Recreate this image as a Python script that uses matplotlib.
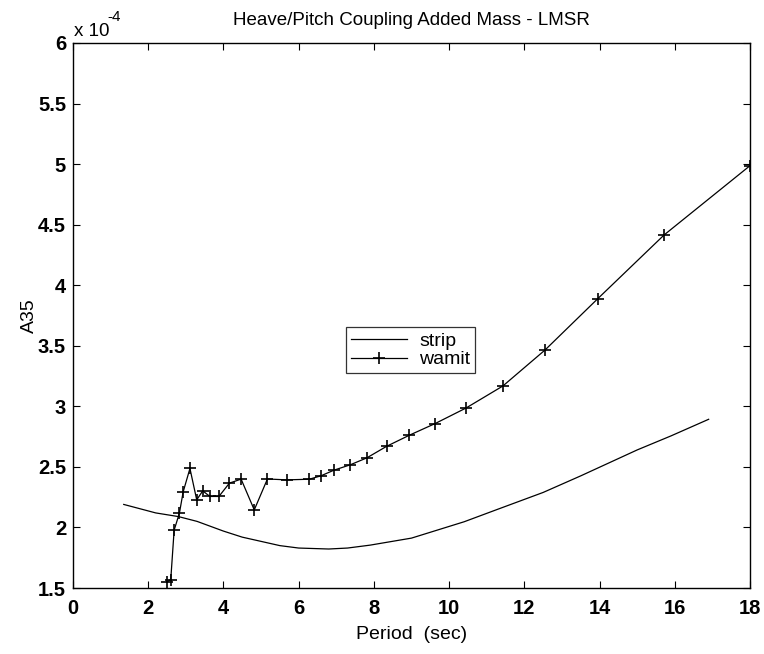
import matplotlib
matplotlib.use("Agg")
import matplotlib.pyplot as plt
from matplotlib.ticker import FuncFormatter, MultipleLocator

plt.rcParams['font.family'] = ['Liberation Sans', 'DejaVu Sans']

# strip theory results (A35 in units of 1e-4)
strip_period = [1.35, 2.2, 2.8, 3.3, 4.0, 4.5, 5.0, 5.5, 6.0, 6.8, 7.3, 7.9,
                9.0, 10.4, 11.3, 12.5, 13.5, 15.0, 15.9, 16.9]
strip_a35 = [2.19, 2.12, 2.09, 2.05, 1.97, 1.92, 1.885, 1.85, 1.83, 1.822, 1.83,
             1.854, 1.912, 2.047, 2.151, 2.289, 2.426, 2.64, 2.756, 2.893]

# WAMIT results (A35 in units of 1e-4)
wamit_period = [2.5, 2.6, 2.69, 2.83, 2.93, 3.11, 3.29, 3.45, 3.64, 3.88, 4.16,
                4.47, 4.82, 5.17, 5.68, 6.28, 6.59, 6.94, 7.37, 7.81, 8.34,
                8.94, 9.63, 10.45, 11.43, 12.55, 13.95, 15.72, 18.0]
wamit_a35 = [1.55, 1.57, 1.978, 2.118, 2.294, 2.487, 2.228, 2.302, 2.256, 2.256,
             2.366, 2.399, 2.145, 2.40, 2.393, 2.398, 2.426, 2.473, 2.517,
             2.574, 2.67, 2.761, 2.858, 2.986, 3.168, 3.465, 3.888, 4.416, 4.987]

scale = 1e-4

fig = plt.figure(figsize=(7.64, 6.54), dpi=100)
ax = fig.add_axes([0.0955, 0.1009, 0.8862, 0.8334])

ax.plot(strip_period, [v * scale for v in strip_a35], '-', color='black',
        lw=0.9, label='strip')
ax.plot(wamit_period, [v * scale for v in wamit_a35], '-+', color='black',
        lw=0.9, ms=9, mew=1.2, label='wamit')

ax.set_xlim(0, 18)
ax.set_ylim(1.5e-4, 6e-4)
ax.xaxis.set_major_locator(MultipleLocator(2))
ax.yaxis.set_major_locator(MultipleLocator(0.5e-4))
ax.yaxis.set_major_formatter(FuncFormatter(lambda v, p: f"{v / scale:g}"))
ax.tick_params(direction='in', top=True, right=True, length=5, width=0.8,
               labelsize=14.5)
ax.tick_params(axis='x', pad=8)
ax.tick_params(axis='y', pad=5)
for lab in ax.get_xticklabels() + ax.get_yticklabels():
    lab.set_fontweight('bold')
for s in ax.spines.values():
    s.set_linewidth(1.0)

ax.set_title('Heave/Pitch Coupling Added Mass - LMSR', fontsize=13.5, pad=13)
ax.set_xlabel('Period  (sec)', fontsize=14, labelpad=6)
ax.set_ylabel('A35', fontsize=14, labelpad=0)

# exponent label above the y axis
ax.text(0.002, 1.006, 'x 10', transform=ax.transAxes, fontsize=13.5,
        ha='left', va='bottom')
ax.text(0.051, 1.035, '-4', transform=ax.transAxes, fontsize=11,
        ha='left', va='bottom')

leg = ax.legend(loc='center', bbox_to_anchor=(0.4985, 0.436),
                fontsize=14, frameon=True, fancybox=False,
                edgecolor='black', handlelength=2.9, borderpad=0.25,
                labelspacing=0.05, handletextpad=0.6, borderaxespad=0)
leg.get_frame().set_linewidth(0.9)

fig.savefig('out.png', dpi=100)
